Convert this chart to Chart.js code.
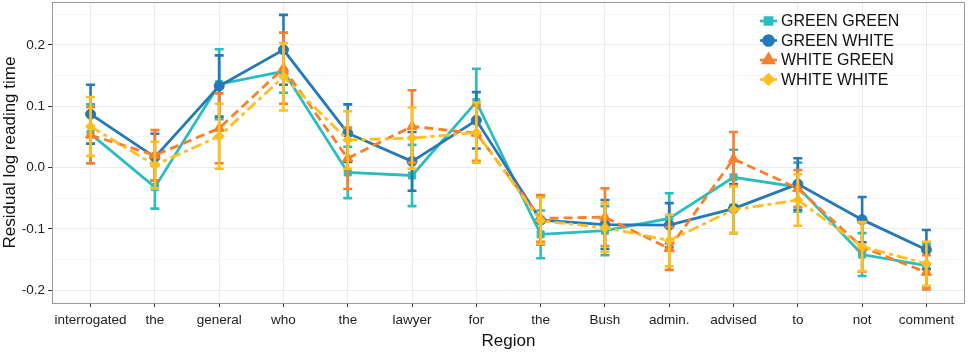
<!DOCTYPE html>
<html>
<head>
<meta charset="utf-8">
<script src="https://cdn.jsdelivr.net/npm/chart.js@4.4.0/dist/chart.umd.min.js"></script>
<style>
    html, body { margin: 0; padding: 0; background: #fff; }
    #wrap { width: 968px; height: 352px; }
</style>
</head>
<body>
<div id="wrap"><canvas id="readingChart" width="968" height="352"></canvas></div>
<script>
const regions = ["interrogated", "the", "general", "who", "the", "lawyer", "for", "the", "Bush", "admin.", "advised", "to", "not", "comment"];

const greenGreen = [0.055, -0.032, 0.136, 0.157, -0.008, -0.013, 0.107, -0.109, -0.103, -0.083, -0.016, -0.032, -0.142, -0.160];
const greenGreenErr = [0.048, 0.035, 0.057, 0.035, 0.042, 0.050, 0.054, 0.039, 0.040, 0.041, 0.045, 0.040, 0.035, 0.035];

const greenWhite = [0.087, 0.017, 0.133, 0.192, 0.056, 0.010, 0.077, -0.086, -0.093, -0.094, -0.067, -0.027, -0.085, -0.134];
const greenWhiteErr = [0.048, 0.038, 0.050, 0.057, 0.047, 0.048, 0.046, 0.040, 0.040, 0.036, 0.040, 0.042, 0.037, 0.032];

const whiteGreen = [0.053, 0.020, 0.064, 0.162, 0.015, 0.067, 0.056, -0.083, -0.081, -0.132, 0.014, -0.034, -0.130, -0.171];
const whiteGreenErr = [0.046, 0.041, 0.057, 0.058, 0.050, 0.059, 0.045, 0.038, 0.047, 0.035, 0.044, 0.030, 0.040, 0.028];

const whiteWhite = [0.067, 0.004, 0.051, 0.148, 0.045, 0.048, 0.057, -0.087, -0.098, -0.119, -0.069, -0.053, -0.129, -0.157];
const whiteWhiteErr = [0.048, 0.038, 0.053, 0.055, 0.047, 0.050, 0.049, 0.038, 0.040, 0.042, 0.038, 0.042, 0.040, 0.036];

const yTickLabels = [-0.2, -0.1, 0.0, 0.1, 0.2];

const FONT = "'Liberation Sans', Arial, Helvetica, sans-serif";

function series(label, values, errors, color, shape, dash, order) {
    return {
        label: label,
        data: values.map((v, i) => ({ x: i, y: v })),
        errors: errors,
        borderColor: color,
        backgroundColor: color,
        borderWidth: 2.8,
        borderDash: dash,
        pointStyle: shape,
        pointRadius: shape === "triangle" ? 6 : 5,
        pointBorderWidth: 1,
        tension: 0,
        fill: false,
        order: order
    };
}

// error bars drawn right after each dataset, using the chart's own scales
const errorBars = {
    id: "errorBars",
    afterDatasetDraw(chart, args) {
        const ds = chart.data.datasets[args.index];
        const x = chart.scales.x, y = chart.scales.y;
        const ctx = chart.ctx;
        ctx.save();
        ctx.strokeStyle = ds.borderColor;
        ctx.lineWidth = 2.6;
        ctx.setLineDash([]);
        ds.data.forEach((p, i) => {
            const px = x.getPixelForValue(p.x);
            const top = y.getPixelForValue(p.y + ds.errors[i]);
            const bot = y.getPixelForValue(p.y - ds.errors[i]);
            ctx.beginPath();
            ctx.moveTo(px, top); ctx.lineTo(px, bot);
            ctx.moveTo(px - 4.5, top); ctx.lineTo(px + 4.5, top);
            ctx.moveTo(px - 4.5, bot); ctx.lineTo(px + 4.5, bot);
            ctx.stroke();
        });
        ctx.restore();
    },
    afterDraw(chart) {
        const ctx = chart.ctx;
        const a = chart.chartArea;
        ctx.save();
        ctx.strokeStyle = "#9a9a9a";
        ctx.lineWidth = 1;
        ctx.strokeRect(a.left + 0.5, a.top + 0.5, a.right - a.left - 1, a.bottom - a.top);

        // legend inside the panel, top right
        chart.data.datasets.forEach((ds, i) => {
            const yy = 21 + i * 19.5;
            ctx.strokeStyle = ds.borderColor;
            ctx.lineWidth = 2.6;
            ctx.setLineDash([]);
            ctx.beginPath();
            ctx.moveTo(760, yy); ctx.lineTo(777, yy);
            ctx.stroke();
            ctx.fillStyle = ds.borderColor;
            Chart.helpers.drawPoint(ctx, { pointStyle: ds.pointStyle, radius: ds.pointRadius, borderWidth: 1 }, 768.5, yy);
            ctx.fill();
            ctx.fillStyle = "#111";
            ctx.font = "16px " + FONT;
            ctx.textBaseline = "middle";
            ctx.fillText(ds.label, 781, yy + 1);
        });
        ctx.restore();
    }
};

function drawChart() {
    const ctx = document.getElementById("readingChart").getContext("2d");

    window.readingChart = new Chart(ctx, {
        type: "line",
        data: {
            datasets: [
                series("GREEN GREEN", greenGreen, greenGreenErr, "#2bbdbd", "rect", [], 4),
                series("GREEN WHITE", greenWhite, greenWhiteErr, "#2479b7", "circle", [], 3),
                series("WHITE GREEN", whiteGreen, whiteGreenErr, "#fa7f2a", "triangle", [9, 5], 2),
                series("WHITE WHITE", whiteWhite, whiteWhiteErr, "#fdbf24", "rectRot", [11, 4, 4, 4], 1)
            ]
        },
        options: {
            responsive: false,
            animation: false,
            layout: { autoPadding: false, padding: { top: 2, right: 3, left: 0, bottom: 0 } },
            plugins: {
                legend: { display: false },
                tooltip: { enabled: false }
            },
            scales: {
                x: {
                    type: "linear",
                    min: -0.6,
                    max: regions.length - 0.4,
                    grid: { color: "#ebebeb", tickLength: 4, tickColor: "#333", lineWidth: 1 },
                    border: { display: false },
                    ticks: {
                        stepSize: 1,
                        includeBounds: false,
                        autoSkip: false,
                        maxRotation: 0,
                        color: "#222",
                        font: { family: FONT, size: 13.5 },
                        padding: 5,
                        callback: value => regions[value] || ""
                    },
                    title: { display: true, text: "Region", color: "#111", font: { family: FONT, size: 17 }, padding: { top: 0, bottom: 0 } },
                    afterFit(scale) {
                        scale.height = 49;
                        scale.paddingLeft = 0;
                        scale.paddingRight = 0;
                    }
                },
                y: {
                    min: -0.221,
                    max: 0.27,
                    grid: {
                        color: c => (yTickLabels.some(t => Math.abs(t - c.tick.value) < 1e-6) ? "#ebebeb" : "#f6f6f6"),
                        tickColor: c => (yTickLabels.some(t => Math.abs(t - c.tick.value) < 1e-6) ? "#333" : "rgba(0,0,0,0)"),
                        tickLength: 4
                    },
                    border: { display: false },
                    ticks: {
                        stepSize: 0.05,
                        includeBounds: false,
                        color: "#222",
                        font: { family: FONT, size: 13.5 },
                        padding: 3,
                        callback: function (value) {
                            const hit = yTickLabels.find(t => Math.abs(t - value) < 1e-6);
                            return hit === undefined ? "" : hit.toFixed(1);
                        }
                    },
                    title: { display: true, text: "Residual log reading time", color: "#111", font: { family: FONT, size: 17 }, padding: { top: 0, bottom: 2 } },
                    afterFit(scale) {
                        scale.width = 52;
                        scale.paddingTop = 0;
                        scale.paddingBottom = 0;
                    }
                }
            }
        },
        plugins: [errorBars]
    });
}

window.onload = function () { drawChart(); };
</script>
</body>
</html>
